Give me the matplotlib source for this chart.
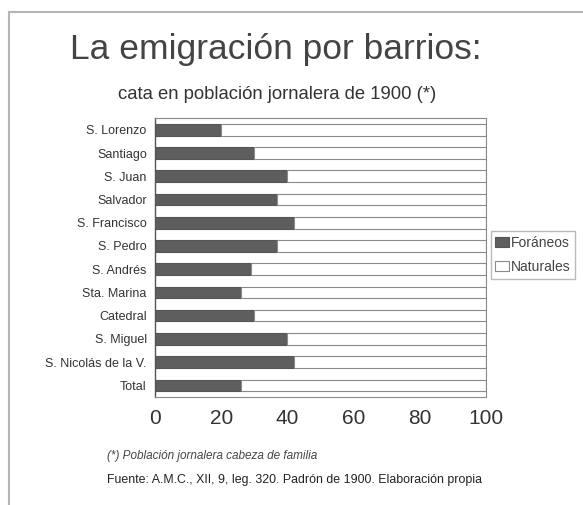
import matplotlib.pyplot as plt
from matplotlib.patches import Rectangle

barrios = ['S. Lorenzo', 'Santiago', 'S. Juan', 'Salvador', 'S. Francisco',
           'S. Pedro', 'S. Andrés', 'Sta. Marina', 'Catedral', 'S. Miguel',
           'S. Nicolás de la V.', 'Total']
foraneos = [20, 30, 40, 37, 42, 37, 29, 26, 30, 40, 42, 26]
naturales = [100 - f for f in foraneos]
xticks = [0, 20, 40, 60, 80, 100]

plt.rcParams['font.family'] = ['Liberation Sans', 'DejaVu Sans']

fig = plt.figure(figsize=(5.83, 5.05), dpi=100)
ax = fig.add_axes([0.266, 0.214, 0.567, 0.552])

y = list(range(len(barrios)))
ax.barh(y, foraneos, height=0.5, color='#5e5e5e', edgecolor='#555555',
        linewidth=0.8, label='Foráneos')
ax.barh(y, naturales, left=foraneos, height=0.5, color='white',
        edgecolor='#8a8a8a', linewidth=0.8, label='Naturales')

ax.set_ylim(len(barrios) - 0.5, -0.5)
ax.set_xlim(0, 100)
ax.set_yticks(y)
ax.set_yticklabels(barrios, fontsize=9, color='#333333')
ax.set_xticks(xticks)
ax.set_xticklabels([str(t) for t in xticks], fontsize=15, color='#333333')
ax.tick_params(axis='both', length=0)
ax.tick_params(axis='x', pad=9)
ax.tick_params(axis='y', pad=6)
for side in ['top', 'right', 'bottom']:
    ax.spines[side].set_color('#8a8a8a')
    ax.spines[side].set_linewidth(0.8)
ax.spines['left'].set_color('#555555')
ax.spines['left'].set_linewidth(1.0)

leg = ax.legend(loc='center left', bbox_to_anchor=(1.0, 0.51), fontsize=10,
                frameon=True, fancybox=False, edgecolor='#aaaaaa',
                handlelength=1.0, handleheight=0.7, handletextpad=0.1,
                borderpad=0.35, labelspacing=0.75, borderaxespad=0.35)
for t in leg.get_texts():
    t.set_color('#444444')

# outer frame around the whole chart
fig.patches.append(Rectangle((0.0155, -0.05), 1.1, 1.026, transform=fig.transFigure,
                             fill=False, edgecolor='#b5b5b5', linewidth=1.5))

fig.text(0.473, 0.902, 'La emigración por barrios:', ha='center', va='center',
         fontsize=25.5, color='#444444')
fig.text(0.476, 0.813, 'cata en población jornalera de 1900 (*)', ha='center',
         va='center', fontsize=13.3, color='#333333')
fig.text(0.183, 0.098, '(*) Población jornalera cabeza de familia', ha='left',
         va='center', fontsize=8.5, style='italic', color='#444444')
fig.text(0.183, 0.049, 'Fuente: A.M.C., XII, 9, leg. 320. Padrón de 1900. Elaboración propia',
         ha='left', va='center', fontsize=8.9, color='#222222')

fig.savefig('out.png', dpi=100)
